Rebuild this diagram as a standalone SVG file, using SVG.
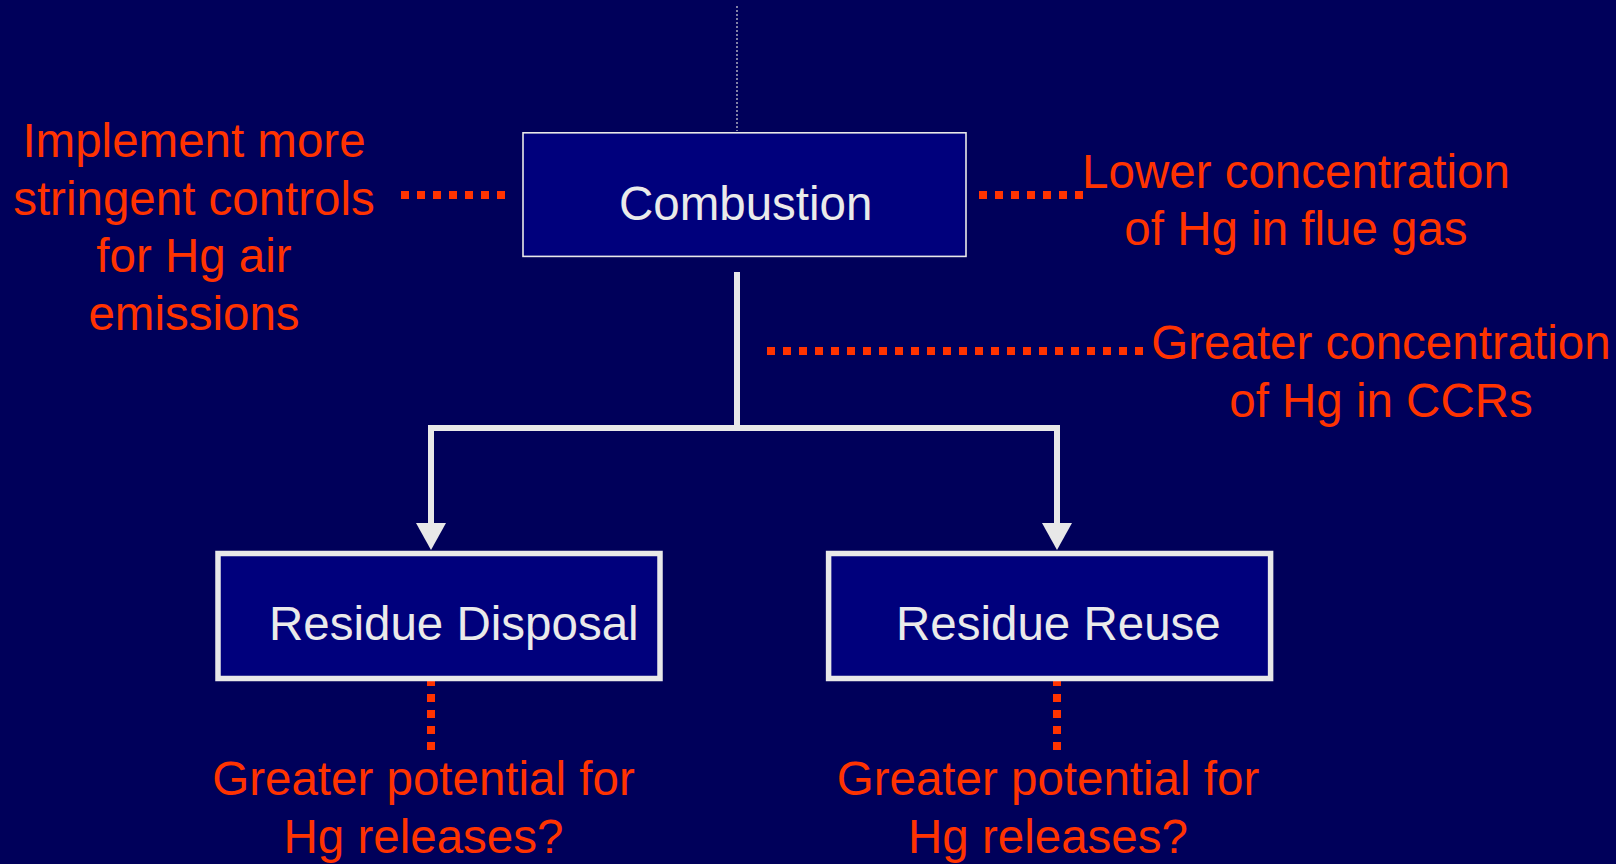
<svg xmlns="http://www.w3.org/2000/svg" width="1616" height="864" viewBox="0 0 1616 864">
<style>
.bg{fill:#00005A}
.box{fill:#00007C;stroke:#E8E8E8}
.thin{stroke-width:1.6}
.thick{stroke-width:5.5}
.lbl{font-family:"Liberation Sans",Arial,sans-serif;font-size:47.5px;fill:#EAEAEA}
.note{font-family:"Liberation Sans",Arial,sans-serif;font-size:47.5px;fill:#FF3300;text-anchor:middle}
.flow{fill:none;stroke:#E8E8E8;stroke-width:6}
.dots{fill:none;stroke:#FF3300;stroke-width:8;stroke-dasharray:8 8}
.fine{fill:none;stroke:#D8D8D8;stroke-width:1.2;stroke-dasharray:2 2}
</style>
<defs>
<marker id="arrow" viewBox="0 0 27 30" refX="0" refY="15" markerWidth="27" markerHeight="30" markerUnits="userSpaceOnUse" orient="auto">
<path d="M0,0 L27,15 L0,30 Z" fill="#E8E8E8"/>
</marker>
</defs>
<rect class="bg" x="0" y="0" width="1616" height="864"/>
<g id="connectors">
<line class="fine" x1="737" y1="6" x2="737" y2="131"/>
<line class="flow" x1="737" y1="272" x2="737" y2="428"/>
<line class="flow" x1="428" y1="428" x2="1060" y2="428"/>
<line class="flow" x1="431" y1="425" x2="431" y2="523" marker-end="url(#arrow)"/>
<line class="flow" x1="1057" y1="425" x2="1057" y2="523" marker-end="url(#arrow)"/>
<line class="dots" x1="401" y1="195" x2="505" y2="195"/>
<line class="dots" x1="979" y1="195" x2="1083" y2="195"/>
<line class="dots" x1="767" y1="351" x2="1151" y2="351"/>
<line class="dots" x1="431" y1="678" x2="431" y2="750"/>
<line class="dots" x1="1057" y1="678" x2="1057" y2="750"/>
</g>
<g id="combustion">
<rect class="box thin" x="523" y="132.8" width="443" height="123.6"/>
<text class="lbl" x="619" y="220">Combustion</text>
</g>
<g id="residue-disposal">
<rect class="box thick" x="218" y="553.5" width="442" height="125"/>
<text class="lbl" x="269" y="640">Residue Disposal</text>
</g>
<g id="residue-reuse">
<rect class="box thick" x="828.6" y="553.5" width="442" height="125"/>
<text class="lbl" x="896" y="640">Residue Reuse</text>
</g>
<g id="note-controls">
<text class="note" x="194" y="157">Implement more</text>
<text class="note" x="194" y="215">stringent controls</text>
<text class="note" x="194" y="272">for Hg air</text>
<text class="note" x="194" y="330">emissions</text>
</g>
<g id="note-flue">
<text class="note" x="1296" y="188">Lower concentration</text>
<text class="note" x="1296" y="245">of Hg in flue gas</text>
</g>
<g id="note-ccr">
<text class="note" x="1381" y="359">Greater concentration</text>
<text class="note" x="1381" y="417">of Hg in CCRs</text>
</g>
<g id="note-disposal">
<text class="note" x="423.5" y="795">Greater potential for</text>
<text class="note" x="423.5" y="853">Hg releases?</text>
</g>
<g id="note-reuse">
<text class="note" x="1048" y="795">Greater potential for</text>
<text class="note" x="1048" y="853">Hg releases?</text>
</g>
</svg>
